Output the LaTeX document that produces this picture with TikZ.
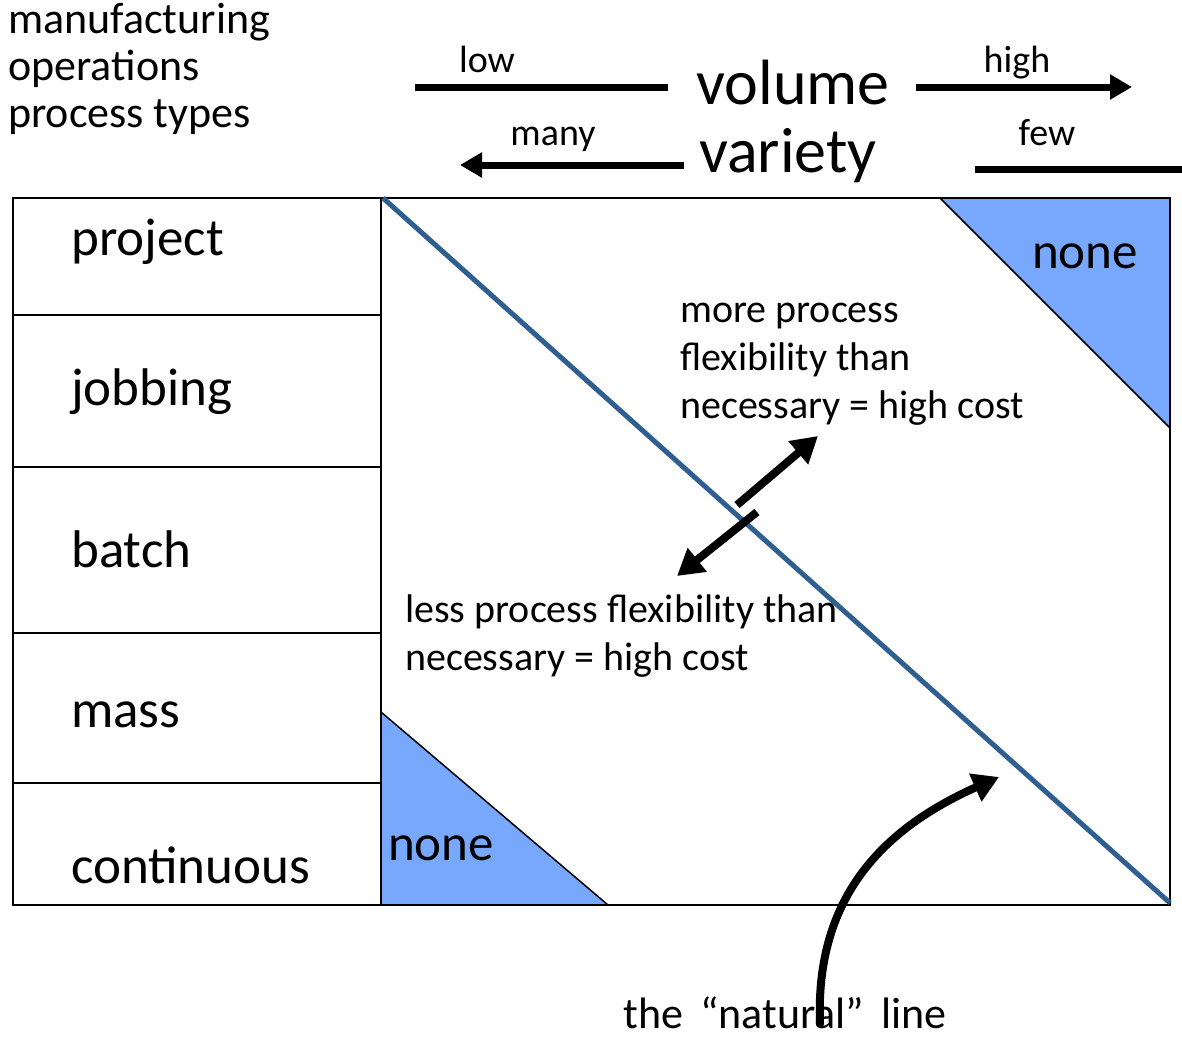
\documentclass[tikz,border=0pt]{standalone}
\usepackage{fontspec}
\setmainfont{Carlito}
\usetikzlibrary{arrows.meta}
\definecolor{diagblue}{HTML}{2F5F90}
\definecolor{cornerblue}{HTML}{78A8FC}
\tikzset{
  label/.style={
    % Plain text, no border; base is the last line
    inner sep=0pt,anchor=base west,align=left,
    font=\fontsize{40}{48}\selectfont},
  rowname/.style={
    inner sep=0pt,anchor=base west,
    font=\fontsize{53}{60}\selectfont},
  axisword/.style={
    inner sep=0pt,anchor=base,
    font=\fontsize{64}{70}\selectfont},
  small/.style={
    inner sep=0pt,anchor=base,
    font=\fontsize{38}{44}\selectfont},
  corner/.style={fill=cornerblue,draw=black,line width=1.5pt},
  bar/.style={line width=7pt},
  fat/.style={line width=8pt,-{Triangle[length=26pt,width=29pt]}}}

\begin{document}
\begin{tikzpicture}[x=1pt,y=-1pt]
	\useasboundingbox (0,0) rectangle (1182,1037);
	% Heading in the corner
	\node[label,font=\fontsize{44}{47}\selectfont] (title) at (8,127)
		{manufacturing\\operations\\process types};
	% Volume and variety scales
	\node[axisword] (vol) at (793,104) {volume};
	\node[axisword] (var) at (788,172) {variety};
	\node[small] (low) at (487,72) {low};
	\node[small] (high) at (1017,72) {high};
	\node[small] (many) at (553,145) {many};
	\node[small] (few) at (1047,145) {few};
	\coordinate (lowA) at (415,87);
	\coordinate (lowB) at (668,87);
	\coordinate (highA) at (916,87);
	\coordinate (highB) at (1132,87);
	\coordinate (manyA) at (684,165);
	\coordinate (manyB) at (460,165);
	\coordinate (fewA) at (975,169);
	\coordinate (fewB) at (1182,169);
	\draw[bar] (lowA) -- (lowB);
	\draw[bar,-{Triangle[length=22pt,width=24pt]}] (highA) -- (highB);
	\draw[bar,-{Triangle[length=22pt,width=24pt]}] (manyA) -- (manyB);
	\draw[bar] (fewA) -- (fewB);
	% Corner triangles
	\draw[corner] (940,198) -- (1170,198) -- (1170,428) -- cycle;
	\draw[corner] (381,712) -- (381,905) -- (608,905) -- cycle;
	% Process type column
	\draw[line width=2pt] (13,198) rectangle (381,905);
	\foreach \y in {315,467,633,783}
		\draw[line width=1.5pt] (13,\y) -- (381,\y);
	\node[rowname] (project) at (71,255) {project};
	\node[rowname] (jobbing) at (71,405) {jobbing};
	\node[rowname] (batch) at (71,567) {batch};
	\node[rowname] (mass) at (71,727) {mass};
	\node[rowname] (cont) at (71,883) {continuous};
	% Matrix box and the natural line
	\draw[line width=2pt] (381,198) rectangle (1170,905);
	\coordinate (diagA) at (383,198);
	\coordinate (diagB) at (1170,903);
	\draw[diagblue,line width=5pt] (diagA) -- (diagB);
	\node[rowname,font=\fontsize{51}{60}\selectfont] (noneA) at (1032,268) {none};
	\node[rowname,font=\fontsize{51}{60}\selectfont] (noneB) at (388,860) {none};
	% Texts either side of the line
	\node[label] (more) at (680,418)
		{more process\\flexibility than\\necessary = high cost};
	\node[label] (less) at (405,670)
		{less process flexibility than\\necessary = high cost};
	% Arrows across the line
	\coordinate (upA) at (737,505);
	\coordinate (upB) at (818,436);
	\coordinate (dnA) at (757,512);
	\coordinate (dnB) at (677,576);
	\draw[fat] (upA) -- (upB);
	\draw[fat] (dnA) -- (dnB);
	% Pointer to the line
	\node[small,font=\fontsize{44}{48}\selectfont] (natural) at (785,1028)
		{the\ \kern7pt“natural”\kern7pt\ line};
	\coordinate (natA) at (820,1024);
	\coordinate (natB) at (999,777);
	\draw[fat,line cap=round] (natA) .. controls (815,900) and (880,830) .. (natB);
\end{tikzpicture}
\end{document}
